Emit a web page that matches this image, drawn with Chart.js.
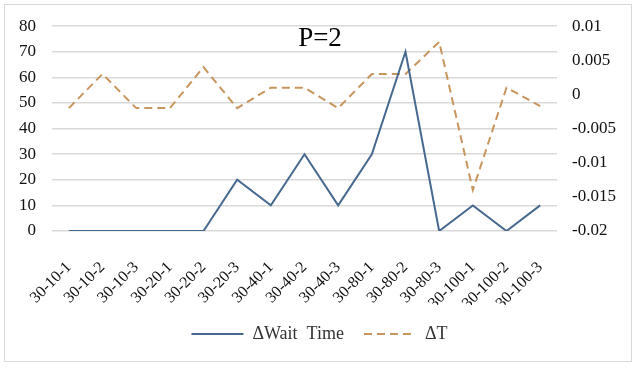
<!DOCTYPE html>
<html>
<head>
<meta charset="utf-8">
<script src="https://cdn.jsdelivr.net/npm/chart.js@4"></script>
<style>
    html, body { margin: 0; padding: 0; background: #fff; }
    #wrap { width: 639px; height: 368px; }
</style>
</head>
<body>
<div id="wrap"><canvas id="chart" width="639" height="368"></canvas></div>
<script>
// Categories (P=2 cases)
const categories = ['30-10-1', '30-10-2', '30-10-3', '30-20-1', '30-20-2', '30-20-3', '30-40-1', '30-40-2',
    '30-40-3', '30-80-1', '30-80-2', '30-80-3', '30-100-1', '30-100-2', '30-100-3'];

// Series values
const waitTime = [0, 0, 0, 0, 0, 20, 10, 30, 10, 30, 70, 0, 10, 0, 10];
const deltaT = [-0.002, 0.003, -0.002, -0.002, 0.004, -0.002, 0.001, 0.001, -0.002, 0.003, 0.003, 0.0077, -0.014, 0.001, -0.0017];

// Axis ranges
const leftTicks = { min: 0, max: 80, step: 10 };
const rightTicks = { min: -0.02, max: 0.01, step: 0.005 };

const serif = "'Liberation Serif', 'DejaVu Serif', serif";
Chart.defaults.font.family = serif;
Chart.defaults.color = '#111';

// Outer border and the "P=2" caption
const decorPlugin = {
    id: 'decor',
    beforeDraw(chart) {
        const ctx = chart.ctx;
        ctx.save();
        ctx.fillStyle = '#fff';
        ctx.fillRect(0, 0, chart.width, chart.height);
        ctx.strokeStyle = '#d9d9d9';
        ctx.lineWidth = 1;
        ctx.strokeRect(4.5, 4.5, 627, 357);
        ctx.restore();
    },
    afterDraw(chart) {
        const ctx = chart.ctx;
        ctx.save();
        ctx.font = '27px ' + serif;
        ctx.fillStyle = '#000';
        ctx.textAlign = 'center';
        ctx.textBaseline = 'middle';
        ctx.fillText('P=2', 320, 39);
        ctx.restore();
    }
};

new Chart(document.getElementById('chart').getContext('2d'), {
    type: 'line',
    data: {
        labels: categories,
        datasets: [{
            label: '\u0394Wait  Time',
            data: waitTime,
            yAxisID: 'y',
            borderColor: '#48698f',
            backgroundColor: '#48698f',
            borderWidth: 2,
            pointRadius: 0,
            pointBorderWidth: 2,
            pointStyle: 'line',
            tension: 0
        }, {
            label: '\u0394T',
            data: deltaT,
            yAxisID: 'y1',
            borderColor: '#c8955e',
            backgroundColor: '#c8955e',
            borderWidth: 2,
            borderDash: [8, 5],
            pointRadius: 0,
            pointBorderWidth: 2,
            pointStyle: 'line',
            tension: 0
        }]
    },
    options: {
        responsive: false,
        animation: false,
        layout: { padding: { top: 26, left: 0, right: 0, bottom: 15 } },
        plugins: {
            legend: {
                position: 'bottom',
                labels: {
                    usePointStyle: true,
                    pointStyleWidth: 52,
                    boxWidth: 52,
                    padding: 20,
                    color: '#333',
                    font: { size: 18 },
                    // point style drops the dataset dash, so copy it back
                    generateLabels(chart) {
                        const items = Chart.defaults.plugins.legend.labels.generateLabels(chart);
                        return items.map(item => ({
                            ...item,
                            lineDash: chart.data.datasets[item.datasetIndex].borderDash || [],
                            lineWidth: 2
                        }));
                    }
                }
            },
            tooltip: { enabled: false }
        },
        scales: {
            x: {
                offset: true,
                grid: { display: false },
                border: { display: false },
                ticks: {
                    autoSkip: false,
                    maxRotation: 45,
                    minRotation: 45,
                    padding: 19,
                    color: '#111',
                    font: { size: 16 }
                },
                afterFit(scale) { scale.height = 74; }
            },
            y: {
                position: 'left',
                min: leftTicks.min,
                max: leftTicks.max,
                ticks: { stepSize: leftTicks.step, color: '#111', font: { size: 17 }, padding: 16 },
                grid: { color: '#d9d9d9', lineWidth: 1.5, drawTicks: false },
                border: { display: false },
                afterFit(scale) { scale.width = 52; }
            },
            y1: {
                position: 'right',
                min: rightTicks.min,
                max: rightTicks.max,
                ticks: {
                    stepSize: rightTicks.step,
                    color: '#111',
                    font: { size: 17 },
                    padding: 15,
                    callback: v => String(Math.round(v * 1000) / 1000)
                },
                grid: { display: false, drawTicks: false },
                border: { display: false },
                afterFit(scale) { scale.width = 82; }
            }
        }
    },
    plugins: [decorPlugin]
});
</script>
</body>
</html>
